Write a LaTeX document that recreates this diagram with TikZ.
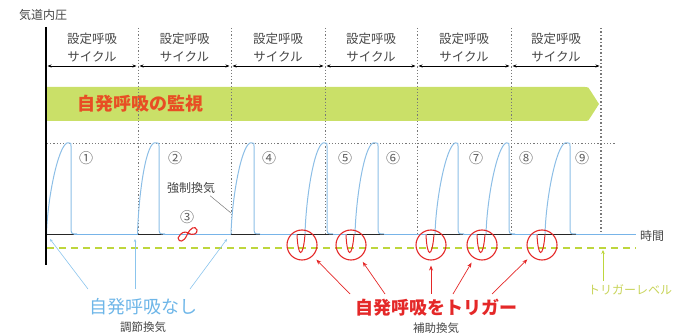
\documentclass[tikz,border=0pt]{standalone}
\usepackage{fontspec}
\setmainfont{Noto Sans CJK JP}
\usetikzlibrary{arrows.meta,shapes.geometric}
\definecolor{gridgray}{RGB}{120,120,120}
\definecolor{numgray}{RGB}{95,95,95}
\definecolor{cyctext}{RGB}{70,70,70}
\definecolor{bannerc}{RGB}{202,224,104}
\definecolor{bannertext}{RGB}{232,78,36}
\definecolor{wavec}{RGB}{140,190,230}
\definecolor{basec}{RGB}{120,180,232}
\definecolor{redc}{RGB}{228,40,40}
\definecolor{limec}{RGB}{190,214,60}
\definecolor{limetext}{RGB}{200,212,90}
\definecolor{lbluetext}{RGB}{110,182,232}
\newcommand\wavepath[3]{\draw[wavestyle] (#1,234) .. controls ({#1+1},198) and ({#2-9},147) .. (#2,143) -- ({#3-2},143) .. controls (#3,143) .. (#3,146) -- (#3,226) .. controls (#3,234) .. ({#3+6},234);}
\newcommand\dippath[1]{\draw[redc,line width=1pt] ({#1-5},234.5) .. controls ({#1-4},258) and ({#1+1},259) .. ({#1+3},234.5);}
\begin{document}
\begin{tikzpicture}[x=1pt,y=-1pt,
  small/.style={font=\fontsize{12}{12}\selectfont,text=cyctext,inner sep=0pt},
  cyc/.style={font=\fontsize{12.5}{12.5}\selectfont,text=cyctext,inner sep=0pt},
  num/.style={font=\fontsize{14}{14}\selectfont,text=numgray,inner sep=0pt},
  big/.style={font=\fontsize{18}{18}\selectfont\bfseries,inner sep=0pt},
  gridline/.style={gridgray,line width=0.8pt,dash pattern=on 1.2pt off 2pt},
  wavestyle/.style={wavec,line width=1pt},
  dimarrow/.style={black,line width=0.6pt,{Stealth[length=4pt,width=3pt]}-{Stealth[length=4pt,width=3pt]}},
  trig/.style={circle,draw=redc,line width=1.1pt,minimum size=30pt,inner sep=0pt},
  redarrow/.style={redc,line width=0.7pt,-{Stealth[length=5pt,width=4pt]},shorten >=5pt},
  bluearrow/.style={lbluetext!80,line width=0.6pt,-{Stealth[length=3pt,width=2.5pt]}},
]
\useasboundingbox (0,0) rectangle (682,336);
% banner
\fill[bannerc] (47,87) -- (585,87) .. controls (588,87) .. (590,90) -- (599,104) -- (590,118) .. controls (588,121) .. (585,121) -- (47,121) -- cycle;
\node[big,text=bannertext,anchor=west] (monitor) at (77,104) {自発呼吸の監視};
% grid lines
\foreach \x in {138,231,325,417,511}{\draw[gridline] (\x,28) -- (\x,234);}
\draw[gridgray,line width=1.2pt,dash pattern=on 1.5pt off 2pt] (601,28) -- (601,234);
\draw[gridline] (47,143) -- (616,143);
% cycle labels and arrows
\foreach \i/\xa/\xb in {0/46/138,1/138/231,2/231/325,3/325/417,4/417/511,5/511/601}{
  \coordinate (ca\i) at (\xa,66);
  \coordinate (cb\i) at (\xb,66);
  \node[cyc] (cyA\i) at ({(\xa+\xb)/2},39) {設定呼吸};
  \node[cyc] (cyB\i) at ({(\xa+\xb)/2},57) {サイクル};
  \draw[dimarrow,shorten <=1.5pt,shorten >=1.5pt] (ca\i) -- (cb\i);
}
% trigger level
\draw[limec,line width=1.4pt,dash pattern=on 7pt off 5pt] (47,248) -- (636,248);
% baseline
\draw[basec,line width=1.8pt] (46,234.5) -- (636,234.5);
\foreach \a/\b in {46/74,138/163,231/260,297/333,347/384,427/463,477/512,538/576}{
  \draw[black!85,line width=1.8pt] (\a,234.5) -- (\b,234.5);
}
% waveforms
\wavepath{46.5}{67}{71}
\wavepath{137.5}{154}{159}
\wavepath{231}{250}{254}
\wavepath{305}{323}{327}
\wavepath{355}{373}{378}
\wavepath{435}{455}{458}
\wavepath{486}{506}{509}
\wavepath{545}{565}{570}
% dips and circles
\foreach \x/\n in {302/1,351/2,431/3,482/4,542/5}{
  \dippath{\x}
  \node[trig] (c\n) at (\x,245) {};
}
% squiggle (3)
\draw[redc,line width=1.1pt] (178,238) .. controls (179,243) and (184,242) .. (187,235) .. controls (190,228) and (195,225) .. (197,230) .. controls (198,234) and (192,236) .. (188,233) .. controls (185,231) and (181,232) .. (178,238);
% axis
\draw[black,line width=1.4pt] (46,27) -- (46,265);
\node[small] (yax) at (43,15) {気道内圧};
\node[small,anchor=west] (xax) at (640,236) {時間};
% numbers
\node[num] (n1) at (86,158) {①};
\node[num] (n2) at (175,158) {②};
\node[num] (n3) at (187,217) {③};
\node[num] (n4) at (269,158) {④};
\node[num] (n5) at (345,158) {⑤};
\node[num] (n6) at (393,158) {⑥};
\node[num] (n7) at (476,158) {⑦};
\node[num] (n8) at (526,158) {⑧};
\node[num] (n9) at (582,158) {⑨};
% forced ventilation
\node[small] (kyo) at (191,188) {強制換気};
\coordinate (w4) at (231,213);
\draw[gridgray,line width=0.5pt] ([xshift=-5pt,yshift=-2pt]kyo.south east) -- (w4);
% no spontaneous breathing
\node[big,font=\fontsize{18}{18}\selectfont,text=lbluetext] (nasi) at (143,307) {自発呼吸なし};
\node[small,font=\fontsize{11.5}{11.5}\selectfont] (chosetsu) at (143,327) {調節換気};
\coordinate (q1) at (88,289); \coordinate (q2) at (135,289); \coordinate (q3) at (190,289);
\coordinate (p1) at (50,239); \coordinate (p2) at (135,239); \coordinate (p3) at (227,239);
\draw[bluearrow] (q1) -- (p1);
\draw[bluearrow] (q2) -- (p2);
\draw[bluearrow] (q3) -- (p3);
% trigger
\node[big,text=redc] (trigtext) at (436,308) {自発呼吸をトリガー};
\node[small,font=\fontsize{11.5}{11.5}\selectfont] (hojo) at (436,328) {補助換気};
\coordinate (t1) at (350,294); \coordinate (t2) at (385,294); \coordinate (t3) at (431,294);
\coordinate (t4) at (453,294); \coordinate (t5) at (492,294);
\draw[redarrow] (t1) -- (c1);
\draw[redarrow] (t2) -- (c2);
\draw[redarrow] (t3) -- (c3);
\draw[redarrow] (t4) -- (c4);
\draw[redarrow] (t5) -- (c5);
% trigger level label
\node[small,text=limetext] (tlv) at (630,290) {トリガーレベル};
\coordinate (tl0) at (603,281);
\coordinate (tl1) at (603,250);
\draw[limec,line width=0.8pt,-{Stealth[length=4pt,width=3.5pt]}] (tl0) -- (tl1);
\end{tikzpicture}
\end{document}
